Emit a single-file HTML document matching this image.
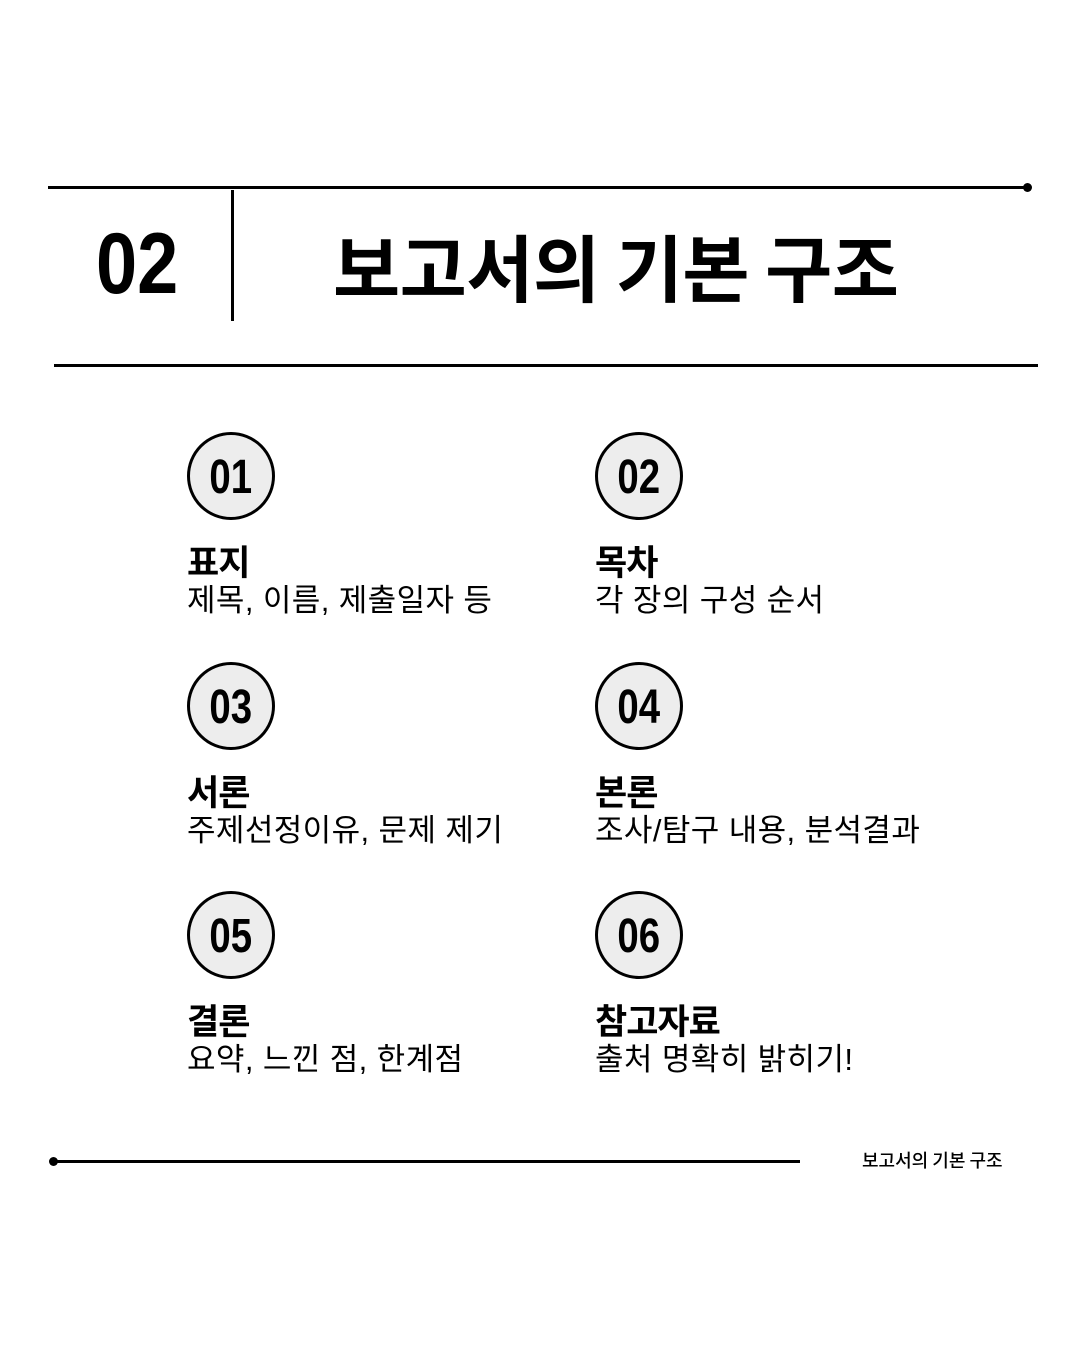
<!DOCTYPE html>
<html><head><meta charset="utf-8"><style>
body{margin:0;width:1080px;height:1350px;background:#fff;position:relative;overflow:hidden;font-family:"Liberation Sans","Noto Sans CJK KR",sans-serif;color:#000}
.a{position:absolute}
.ln{position:absolute;background:#000}
.c{position:absolute;width:82px;height:82px;border:3px solid #000;border-radius:50%;background:#ededed;display:flex;align-items:center;justify-content:center}
.c span{font-size:48px;line-height:1;display:inline-block;transform:scaleX(.8);font-weight:700;margin-top:3px}
.h{position:absolute;font-family:"Noto Sans CJK KR",sans-serif;font-weight:700;font-size:35px;line-height:1;letter-spacing:-1px;white-space:nowrap}
.s{position:absolute;font-family:"Liberation Sans","Noto Sans CJK KR",sans-serif;font-size:31px;line-height:1;white-space:nowrap;letter-spacing:0.4px}
</style></head><body>
<div class="ln" style="left:48px;top:186px;width:980px;height:3px"></div>
<div class="a" style="left:1023px;top:183px;width:9px;height:9px;border-radius:50%;background:#000"></div>
<div class="ln" style="left:231px;top:190px;width:3px;height:131px"></div>
<div class="a" style="left:96px;top:221px;font-size:86px;font-weight:700;line-height:1;transform:scaleX(.86);transform-origin:left top">02</div>
<div class="a" style="left:333px;top:229px;font-family:'Noto Sans CJK KR',sans-serif;font-weight:700;font-size:73px;line-height:1;white-space:nowrap;letter-spacing:-0.5px">보고서의 기본 구조</div>
<div class="ln" style="left:54px;top:364px;width:984px;height:3px"></div>

<div class="c" style="left:187px;top:432px"><span>01</span></div>
<div class="c" style="left:595px;top:432px"><span>02</span></div>
<div class="c" style="left:187px;top:662px"><span>03</span></div>
<div class="c" style="left:595px;top:662px"><span>04</span></div>
<div class="c" style="left:187px;top:891px"><span>05</span></div>
<div class="c" style="left:595px;top:891px"><span>06</span></div>

<div class="h" style="left:187px;top:543px">표지</div>
<div class="s" style="left:187px;top:585px">제목, 이름, 제출일자 등</div>
<div class="h" style="left:595px;top:543px">목차</div>
<div class="s" style="left:595px;top:585px">각 장의 구성 순서</div>
<div class="h" style="left:187px;top:773px">서론</div>
<div class="s" style="left:187px;top:815px">주제선정이유, 문제 제기</div>
<div class="h" style="left:595px;top:773px">본론</div>
<div class="s" style="left:595px;top:815px">조사/탐구 내용, 분석결과</div>
<div class="h" style="left:187px;top:1002px">결론</div>
<div class="s" style="left:187px;top:1044px">요약, 느낀 점, 한계점</div>
<div class="h" style="left:595px;top:1002px">참고자료</div>
<div class="s" style="left:595px;top:1044px">출처 명확히 밝히기!</div>

<div class="a" style="left:49px;top:1157px;width:9px;height:9px;border-radius:50%;background:#000"></div>
<div class="ln" style="left:52px;top:1160px;width:748px;height:3px"></div>
<div class="a" style="left:862px;top:1151px;font-family:'Noto Sans CJK KR',sans-serif;font-weight:500;font-size:18px;line-height:1;white-space:nowrap">보고서의 기본 구조</div>
</body></html>
